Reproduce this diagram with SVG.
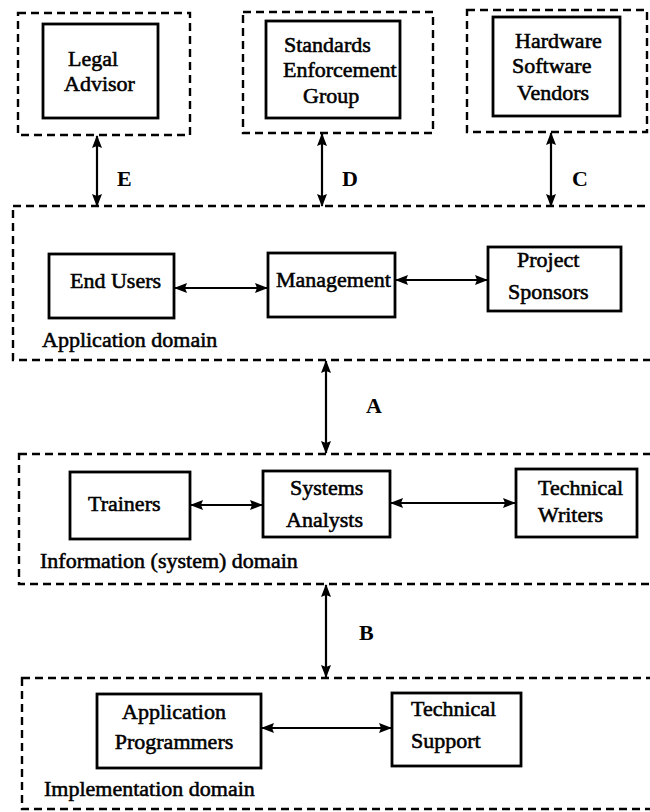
<svg xmlns="http://www.w3.org/2000/svg" width="650" height="812" viewBox="0 0 650 812">
  <defs>
    <marker id="ah" viewBox="0 0 13 10" refX="12" refY="5" markerWidth="13" markerHeight="10" markerUnits="userSpaceOnUse" orient="auto-start-reverse">
      <path d="M0,0 L13,5 L0,10 L2,5 Z" fill="#000"/>
    </marker>
    <style>
      .box { fill: #fff; stroke: #000; stroke-width: 2.8; }
      .dash { fill: none; stroke: #000; stroke-width: 2.4; stroke-dasharray: 8 5; }
      .t { font-family: "Liberation Serif", "Times New Roman", serif; font-size: 22px; fill: #000; stroke: #000; stroke-width: 0.55; }
      .lbl { font-family: "Liberation Serif", "Times New Roman", serif; font-size: 22px; font-weight: bold; fill: #000; }
      .arr { stroke: #000; stroke-width: 2.2; fill: none; marker-start: url(#ah); marker-end: url(#ah); }
    </style>
  </defs>
  <rect width="650" height="812" fill="#fff"/>

  <!-- external parties -->
  <g id="legal-advisor">
    <rect class="dash" x="18" y="13" width="172" height="122"/>
    <rect class="box" x="43" y="24" width="115" height="94"/>
    <text class="t" x="68" y="66">Legal</text>
    <text class="t" x="64" y="91">Advisor</text>
  </g>
  <g id="standards-group">
    <rect class="dash" x="243" y="12" width="190" height="121"/>
    <rect class="box" x="266" y="21" width="134" height="97"/>
    <text class="t" x="284" y="52">Standards</text>
    <text class="t" x="283" y="77">Enforcement</text>
    <text class="t" x="303" y="103">Group</text>
  </g>
  <g id="vendors">
    <rect class="dash" x="467" y="10" width="180" height="122"/>
    <rect class="box" x="493" y="17" width="127" height="99"/>
    <text class="t" x="515" y="48">Hardware</text>
    <text class="t" x="512" y="73">Software</text>
    <text class="t" x="517" y="100">Vendors</text>
  </g>

  <!-- application domain -->
  <g id="application-domain">
    <rect class="dash" x="13" y="206" width="645" height="154"/>
    <text class="t" x="42" y="347">Application domain</text>
  </g>
  <g id="end-users">
    <rect class="box" x="49" y="254" width="125" height="64"/>
    <text class="t" x="70" y="288">End Users</text>
  </g>
  <g id="management">
    <rect class="box" x="268" y="253" width="127" height="64"/>
    <text class="t" x="276" y="287">Management</text>
  </g>
  <g id="project-sponsors">
    <rect class="box" x="488" y="247" width="133" height="64"/>
    <text class="t" x="517" y="267">Project</text>
    <text class="t" x="508" y="299">Sponsors</text>
  </g>

  <!-- information (system) domain -->
  <g id="information-domain">
    <rect class="dash" x="19" y="454" width="640" height="130"/>
    <text class="t" x="40" y="568">Information (system) domain</text>
  </g>
  <g id="trainers">
    <rect class="box" x="70" y="472" width="120" height="67"/>
    <text class="t" x="88" y="511">Trainers</text>
  </g>
  <g id="systems-analysts">
    <rect class="box" x="263" y="471" width="127" height="66"/>
    <text class="t" x="290" y="495">Systems</text>
    <text class="t" x="286" y="527">Analysts</text>
  </g>
  <g id="technical-writers">
    <rect class="box" x="516" y="469" width="121" height="68"/>
    <text class="t" x="538" y="495">Technical</text>
    <text class="t" x="538" y="522">Writers</text>
  </g>

  <!-- implementation domain -->
  <g id="implementation-domain">
    <rect class="dash" x="22" y="678" width="640" height="131"/>
    <text class="t" x="44" y="796">Implementation domain</text>
  </g>
  <g id="application-programmers">
    <rect class="box" x="97" y="694" width="164" height="74"/>
    <text class="t" x="174" y="719" text-anchor="middle">Application</text>
    <text class="t" x="174" y="749" text-anchor="middle">Programmers</text>
  </g>
  <g id="technical-support">
    <rect class="box" x="392" y="693" width="129" height="73"/>
    <text class="t" x="411" y="716">Technical</text>
    <text class="t" x="411" y="748">Support</text>
  </g>

  <!-- connectors -->
  <g id="connectors">
    <line class="arr" x1="97" y1="136" x2="97" y2="206"/>
    <line class="arr" x1="322" y1="134" x2="322" y2="206"/>
    <line class="arr" x1="551" y1="133" x2="551" y2="206"/>
    <line class="arr" x1="175" y1="288" x2="267" y2="288"/>
    <line class="arr" x1="396" y1="280" x2="487" y2="280"/>
    <line class="arr" x1="326" y1="361" x2="326" y2="453"/>
    <line class="arr" x1="191" y1="505" x2="262" y2="505"/>
    <line class="arr" x1="391" y1="503" x2="515" y2="503"/>
    <line class="arr" x1="326" y1="585" x2="326" y2="677"/>
    <line class="arr" x1="262" y1="728" x2="391" y2="728"/>
    <text class="lbl" x="117" y="186">E</text>
    <text class="lbl" x="342" y="186">D</text>
    <text class="lbl" x="572" y="186">C</text>
    <text class="lbl" x="366" y="413">A</text>
    <text class="lbl" x="359" y="640">B</text>
  </g>
</svg>
